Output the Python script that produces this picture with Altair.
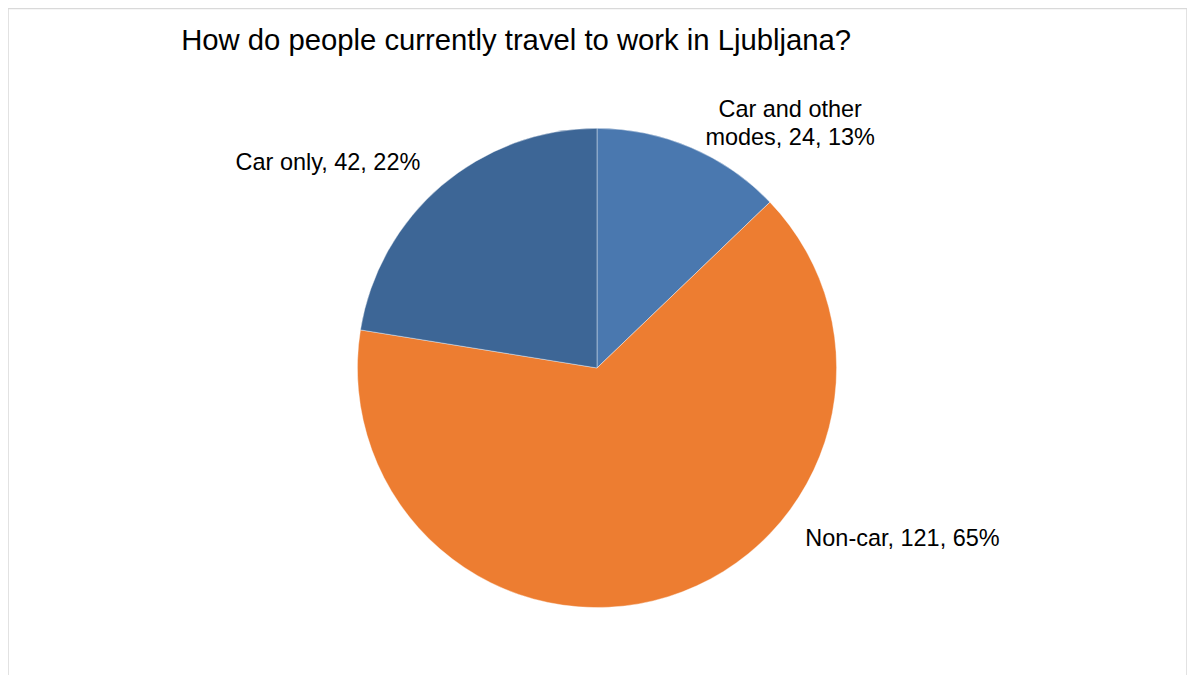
import altair as alt
import pandas as pd

categories = ["Car and other modes", "Non-car", "Car only"]
values = [24, 121, 42]
percents = ["13%", "65%", "22%"]
colors = ["#4A78AF", "#ED7D31", "#3D6696"]
title_text = "How do people currently travel to work in Ljubljana?"

df = pd.DataFrame({
    "category": categories,
    "value": values,
    "pct": percents,
    "order": list(range(len(categories))),
})
df["label"] = df["category"] + ", " + df["value"].astype(str) + ", " + df["pct"]

W, H = 1181, 672
CX, CY, R = 590, 360, 240

base = alt.Chart(df)

pie = base.mark_arc(outerRadius=R, stroke="white", strokeWidth=0.4).encode(
    theta=alt.Theta("value:Q", stack=True),
    order=alt.Order("order:Q"),
    color=alt.Color("category:N", scale=alt.Scale(domain=categories, range=colors), legend=None),
    x=alt.value(CX),
    y=alt.value(CY),
)

font = "Liberation Sans"
lab_size = 23.5

lab1 = base.transform_filter(alt.datum.category == "Car and other modes").mark_text(
    font=font, fontSize=lab_size, align="center", baseline="alphabetic", color="#000000",
    lineBreak="\n", lineHeight=28,
).encode(
    text=alt.Text("l2:N"),
    x=alt.value(783.5), y=alt.value(109),
).transform_calculate(l2="'Car and other\\nmodes, ' + datum.value + ', ' + datum.pct")

lab2 = base.transform_filter(alt.datum.category == "Non-car").mark_text(
    font=font, fontSize=lab_size, align="center", baseline="alphabetic", color="#000000",
).encode(text="label:N", x=alt.value(896), y=alt.value(538.5))

lab3 = base.transform_filter(alt.datum.category == "Car only").mark_text(
    font=font, fontSize=lab_size, align="center", baseline="alphabetic", color="#000000",
).encode(text="label:N", x=alt.value(320.5), y=alt.value(162))

title = alt.Chart(pd.DataFrame({"t": [title_text]})).mark_text(
    font=font, fontSize=29.3, align="center", baseline="alphabetic", color="#000000",
).encode(text="t:N", x=alt.value(509), y=alt.value(42))

chart = alt.layer(pie, lab1, lab2, lab3, title).properties(
    width=W, height=H, padding=0, autosize=alt.AutoSizeParams(type="none"),
    background="white",
).configure_view(stroke="#D9D9D9", strokeWidth=1.5)

chart.save("out.html", embed_options={"renderer": "svg", "actions": False})
